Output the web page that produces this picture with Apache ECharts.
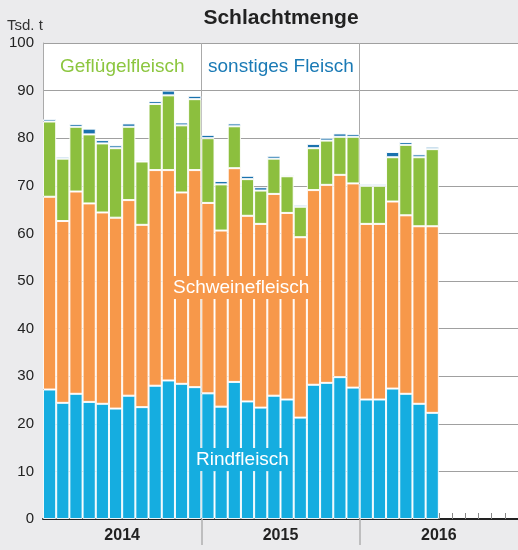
<!DOCTYPE html>
<html>
<head>
<meta charset="utf-8">
<script src="https://cdn.jsdelivr.net/npm/echarts@6/dist/echarts.min.js"></script>
<style>
  html, body { margin: 0; padding: 0; background: #ebebed; }
  #chart { width: 518px; height: 550px; }
</style>
</head>
<body>
<div id="chart"></div>
<script>
// Monatswerte Jan 2014 – Jun 2016, Tsd. t
const years = ['2014', '2015', '2016'];
const monthNames = ['Jan', 'Feb', 'Mär', 'Apr', 'Mai', 'Jun', 'Jul', 'Aug', 'Sep', 'Okt', 'Nov', 'Dez'];

const rind = [27.2, 24.4, 26.3, 24.6, 24.2, 23.2, 25.9, 23.5, 28.0, 29.1, 28.4, 27.7,
  26.4, 23.6, 28.8, 24.7, 23.4, 25.9, 25.1, 21.3, 28.2, 28.6, 29.8, 27.6,
  25.1, 25.1, 27.4, 26.3, 24.2, 22.3];
const schwein = [40.5, 38.2, 42.5, 41.7, 40.2, 40.1, 41.1, 38.3, 45.3, 44.2, 40.2, 45.6,
  40.0, 37.0, 44.9, 39.0, 38.6, 42.4, 39.2, 37.9, 40.9, 41.6, 42.5, 42.9,
  36.9, 36.9, 39.3, 37.5, 37.3, 39.2];
const gefluegel = [15.8, 13.1, 13.6, 14.5, 14.5, 14.6, 15.4, 13.3, 13.9, 15.7, 14.1, 14.9,
  13.6, 9.7, 8.8, 7.7, 7.0, 7.4, 7.7, 6.4, 8.8, 9.3, 8.0, 9.8,
  8.0, 8.0, 9.3, 14.8, 14.5, 16.2];
const sonstiges = [0.5, 0.4, 0.6, 1.2, 0.7, 0.6, 0.7, 0.3, 0.6, 1.0, 0.6, 0.7,
  0.7, 0.7, 0.6, 0.7, 0.7, 0.6, 0.3, 0.4, 0.9, 0.6, 0.7, 0.6,
  0.4, 0.4, 1.1, 0.6, 0.6, 0.5];

// Achse läuft über drei volle Jahre
const months = [];
years.forEach(y => monthNames.forEach(m => months.push(m + ' ' + y)));

const font = "'Liberation Sans', Arial, sans-serif";
const colors = {
  rind: '#15ade0',
  schwein: '#f7984a',
  gefluegel: '#8cbf3e',
  sonstiges: '#1a72ae'
};

const chart = echarts.init(document.getElementById('chart'));

const makeSeries = (name, data, c) => ({
  name: name,
  type: 'bar',
  stack: 'menge',
  data: data,
  xAxisIndex: 0,
  barCategoryGap: '0%',
  z: 3,
  itemStyle: {
    color: c,
    borderColor: 'rgba(255,255,255,0.92)',
    borderWidth: 1
  },
  emphasis: { disabled: true }
});

const option = {
  backgroundColor: '#ebebed',
  animation: false,
  grid: {
    left: 43,
    top: 43,
    width: 477,
    height: 476,
    show: true,
    backgroundColor: '#fff',
    borderWidth: 0
  },
  xAxis: [
    {
      type: 'category',
      data: months,
      boundaryGap: true,
      z: 1,
      axisLine: { lineStyle: { color: '#222', width: 2 } },
      axisTick: {
        show: true, inside: true, length: 6,
        // nur leere Monate zeigen Striche
        interval: (i) => i >= rind.length,
        lineStyle: { color: '#888' }
      },
      axisLabel: { show: false },
      splitLine: { show: false }
    },
    {
      type: 'value',
      min: 0,
      max: 36,
      interval: 12,
      position: 'bottom',
      z: 1,
      axisLine: { show: false },
      axisTick: { show: true, customValues: [12, 24], length: 26, lineStyle: { color: '#b0b0b0', width: 1.5 } },
      splitLine: { show: true, lineStyle: { color: '#aaa', width: 1 } },
      axisLabel: {
        customValues: [6, 18, 30],
        formatter: (v) => years[Math.floor(v / 12)],
        fontFamily: font,
        fontSize: 16,
        fontWeight: 'bold',
        color: '#222',
        margin: 9
      }
    }
  ],
  yAxis: {
    type: 'value',
    min: 0,
    max: 100,
    interval: 10,
    z: 1,
    axisLine: { show: true, lineStyle: { color: '#aaa', width: 1 } },
    axisTick: { show: false },
    axisLabel: { fontFamily: font, fontSize: 15, color: '#222', margin: 9 },
    splitLine: { show: true, lineStyle: { color: '#a0a0a0', width: 1 } }
  },
  series: [
    makeSeries('Rindfleisch', rind, colors.rind),
    makeSeries('Schweinefleisch', schwein, colors.schwein),
    makeSeries('Geflügelfleisch', gefluegel, colors.gefluegel),
    makeSeries('sonstiges Fleisch', sonstiges, colors.sonstiges)
  ],
  graphic: [
    {
      type: 'text', x: 281, y: 18,
      style: {
        text: 'Schlachtmenge', font: 'bold 21px ' + font, fill: '#222',
        textAlign: 'center', textVerticalAlign: 'middle'
      }
    },
    {
      type: 'text', left: 7, top: 18,
      style: { text: 'Tsd. t', font: '15px ' + font, fill: '#333' }
    },
    {
      type: 'text', left: 60, top: 57,
      style: { text: 'Geflügelfleisch', font: '19px ' + font, fill: '#8cc63f' }
    },
    {
      type: 'text', left: 208, top: 57,
      style: { text: 'sonstiges Fleisch', font: '19px ' + font, fill: '#1a7ab5' }
    },
    {
      type: 'text', left: 170, top: 276, z: 10,
      style: {
        text: 'Schweinefleisch', font: '19px ' + font, fill: '#fff',
        backgroundColor: colors.schwein, padding: [2, 3, 2, 3]
      }
    },
    {
      type: 'text', left: 193, top: 448, z: 10,
      style: {
        text: 'Rindfleisch', font: '19px ' + font, fill: '#fff',
        backgroundColor: colors.rind, padding: [2, 3, 2, 3]
      }
    }
  ]
};

chart.setOption(option);
</script>
</body>
</html>
